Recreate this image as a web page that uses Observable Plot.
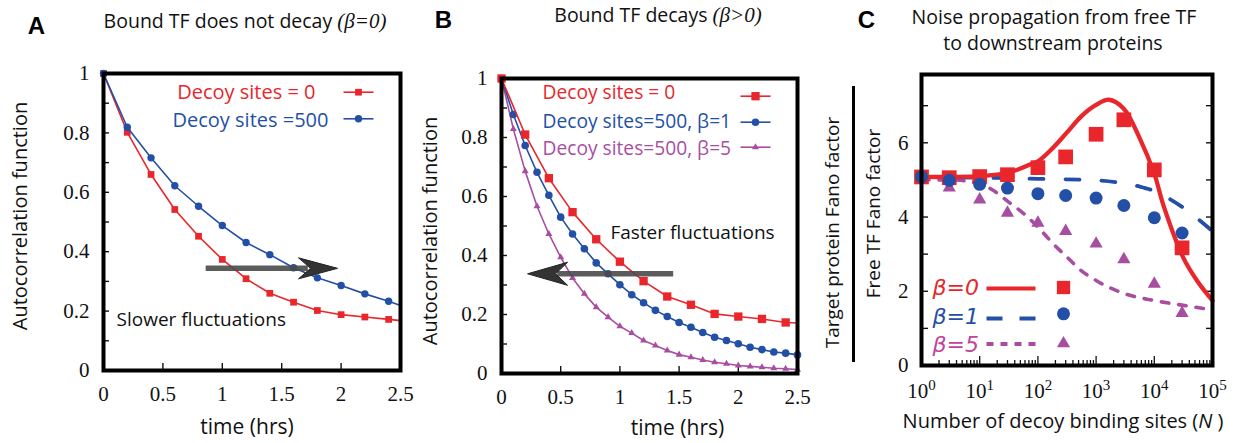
<!DOCTYPE html>
<html><head><meta charset="utf-8">
<script src="https://cdn.jsdelivr.net/npm/d3@7"></script>
<script src="https://cdn.jsdelivr.net/npm/@observablehq/plot@0.6"></script>
<style>
body{margin:0;background:#fff;}
#fig{position:relative;width:1243px;height:443px;overflow:hidden;font-family:'Open Sans','Noto Sans',sans-serif;color:#111;}
.lbl{position:absolute;transform:translate(-50%,-50%);white-space:nowrap;line-height:1;font-size:19.5px;}
.lbl .m{font-family:'Liberation Serif',serif;font-style:italic;font-size:21px;}
.panel{position:absolute;transform:translate(-50%,-50%);line-height:1;font-family:'Liberation Sans',Arial,sans-serif;font-weight:bold;font-size:24px;color:#000;}
</style></head><body><div id="fig"></div>
<script>
// ---------- Panel A data ----------
const timeA = [0,0.2,0.4,0.6,0.8,1.0,1.2,1.4,1.6,1.8,2.0,2.2,2.4,2.5];
const acfA_decoy0   = [1,0.802,0.66,0.542,0.452,0.374,0.309,0.26,0.23,0.202,0.188,0.18,0.172,0.168];
const acfA_decoy500 = [1,0.819,0.716,0.622,0.553,0.488,0.431,0.39,0.346,0.312,0.286,0.258,0.233,0.219];
// ---------- Panel B data ----------
const timeB_red = [0,0.2,0.4,0.6,0.8,1.0,1.2,1.4,1.6,1.8,2.0,2.2,2.4,2.5];
const acfB_decoy0 = [1,0.81,0.662,0.547,0.455,0.379,0.313,0.261,0.233,0.202,0.193,0.185,0.173,0.171];
const timeB = [0,0.1,0.2,0.3,0.4,0.5,0.6,0.7,0.8,0.9,1.0,1.1,1.2,1.3,1.4,1.5,1.6,1.7,1.8,1.9,2.0,2.1,2.2,2.3,2.4,2.5];
const acfB_beta1 = [1,0.878,0.773,0.682,0.604,0.53,0.473,0.423,0.375,0.338,0.301,0.267,0.24,0.214,0.193,0.173,0.157,0.139,0.123,0.112,0.101,0.089,0.081,0.073,0.069,0.063];
const acfB_beta5 = [1,0.829,0.686,0.567,0.473,0.394,0.324,0.27,0.225,0.191,0.16,0.137,0.112,0.095,0.078,0.064,0.055,0.046,0.038,0.033,0.027,0.024,0.021,0.018,0.016,0.013];
// ---------- Panel C data ----------
const decoyN = [1,3,10,30,100,300,1000,3000,10000,30000];
const fanoSim_beta0 = [5.08,5.06,5.09,5.14,5.33,5.62,6.23,6.62,5.27,3.17];
const fanoSim_beta1 = [5.08,4.99,4.88,4.78,4.63,4.58,4.51,4.31,3.98,3.57];
const fanoSim_beta5 = [5.02,4.79,4.47,4.11,3.84,3.62,3.28,2.86,2.2,1.41];
const theoryN_beta0 = [1,3.16,10,31.6,75,100,178,316,562,1000,1660,2990,5620,10000,14450,31600,56200,100000];
const fanoTheory_beta0 = [5.08,5.08,5.1,5.2,5.42,5.5,5.85,6.28,6.72,7.02,7.16,6.92,6.12,5.17,4.3,2.9,2.25,1.75];
const theoryN_beta1 = [1,10,100,1000,3160,5620,10000,17800,31600,56200,100000];
const fanoTheory_beta1 = [5.08,5.06,5.03,4.99,4.9,4.82,4.7,4.5,4.25,3.95,3.62];
const theoryN_beta5 = [1,3.16,10,17.8,31.6,56.2,100,178,316,562,1000,3160,10000,31600,100000];
const fanoTheory_beta5 = [5.0,5.0,4.9,4.7,4.4,4.1,3.73,3.3,2.92,2.55,2.29,1.93,1.75,1.62,1.5];
// ---------- ticks ----------
const timeTicks = [0,0.5,1,1.5,2,2.5];
const acfTicks = [0,0.2,0.4,0.6,0.8,1];
const acfMinorTicks = [0,0.1,0.2,0.3,0.4,0.5,0.6,0.7,0.8,0.9,1];
const nTicks = [1,10,100,1000,10000,100000];
const nMinorTicks = [2,3,4,5,6,7,8,9,20,30,40,50,60,70,80,90,200,300,400,500,600,700,800,900,
  2000,3000,4000,5000,6000,7000,8000,9000,20000,30000,40000,50000,60000,70000,80000,90000];
const fanoTicks = [0,2,4,6];
const fanoMinorTicks = [1,2,3,4,5,6,7];
// ---------- annotations ----------
const arrowA = [{x1:0.86, x2:1.72, tip:1.97, y:0.344}];
const arrowB = [{x1:1.45, x2:0.47, tip:0.22, y:0.338}];
const noteA = [{x:0.11, y:0.17, text:"Slower fluctuations"}];
const noteB = [{x:0.92, y:0.475, text:"Faster fluctuations"}];

const red = "#e8262b", blue = "#2350a6", purple = "#a84ea1", purpleText = "#c0449e";
const sans = "'Open Sans','Noto Sans',sans-serif";
const serif = "'Liberation Serif','Times New Roman',serif";

const hline = len => ({draw(ctx){ctx.moveTo(-len/2,0); ctx.lineTo(len/2,0);}});
const head = (dir, len, half, notch) => ({draw(ctx){
  ctx.moveTo(0,0); ctx.lineTo(-dir*len,-half); ctx.lineTo(-dir*notch,0); ctx.lineTo(-dir*len,half); ctx.closePath();}});
const zip = (xs, ys) => xs.map((x,i)=>({x, y: ys[i]}));
const style = {background:"transparent", overflow:"visible", fontFamily: sans, color:"#111"};
const lab = (s, o) => Plot.text([s], {text:d=>d, textAnchor:"middle", lineAnchor:"middle", fontSize:20, fill:"#111", ...o});

function acfAxes(){
  return [
    Plot.axisY(acfMinorTicks, {anchor:"left", tickSize:-6, strokeWidth:1.4, fill:"none", label:null}),
    Plot.axisX(timeTicks, {anchor:"bottom", tickSize:-7, strokeWidth:1.4, fill:"none", label:null}),
    Plot.axisY(acfTicks, {anchor:"left", tickSize:0, tickPadding:14, tickFormat:d=>String(d), fill:"#111", label:null}),
    Plot.axisX(timeTicks, {anchor:"bottom", tickSize:0, tickPadding:16, tickFormat:d=>String(d), fill:"#111", label:null})
  ];
}

// ---------------- Panel A ----------------
const dA0 = zip(timeA, acfA_decoy0), dA5 = zip(timeA, acfA_decoy500);
const plotA = Plot.plot({
  width:410, height:443, marginLeft:103, marginRight:10, marginTop:73, marginBottom:73,
  x:{domain:[0,2.5]}, y:{domain:[0,1]}, style,
  marks:[
    ...acfAxes(),
    lab("Autocorrelation function", {frameAnchor:"left", dx:-83, dy:-6, rotate:-90}),
    lab("time (hrs)", {frameAnchor:"bottom", dx:-5, dy:57, fontSize:21}),
    Plot.line(dA0, {x:"x", y:"y", stroke:red, strokeWidth:1.6}),
    Plot.dot(dA0, {filter:d=>d.x<2.45, x:"x", y:"y", symbol:"square", r:3.8, fill:red, stroke:"none"}),
    Plot.line(dA5, {x:"x", y:"y", stroke:blue, strokeWidth:1.6}),
    Plot.dot(dA5, {filter:d=>d.x<2.45, x:"x", y:"y", symbol:"circle", r:3.7, fill:blue, stroke:"none"}),
    Plot.link(arrowA, {x1:"x1", x2:"x2", y1:"y", y2:"y", stroke:"#4a4a4a", strokeOpacity:0.9, strokeWidth:5.5}),
    Plot.dot(arrowA, {x:"tip", y:"y", symbol:head(1,39,10.5,27), fill:"#333", stroke:"#222", strokeWidth:1}),
    Plot.text(noteA, {x:"x", y:"y", text:"text", textAnchor:"start", fontSize:19, fill:"#111"}),
    lab("Decoy sites = 0", {frameAnchor:"top-right", dx:-85, dy:19, textAnchor:"end", fill:red}),
    Plot.dot([0], {frameAnchor:"top-right", dx:-42, dy:18.7, symbol:hline(30), stroke:red, strokeWidth:1.6, fill:"none"}),
    Plot.dot([0], {frameAnchor:"top-right", dx:-42, dy:18.7, symbol:"square", r:3.8, fill:red, stroke:"none"}),
    lab("Decoy sites =500", {frameAnchor:"top-right", dx:-72, dy:47.5, textAnchor:"end", fill:blue}),
    Plot.dot([0], {frameAnchor:"top-right", dx:-42, dy:45.3, symbol:hline(30), stroke:blue, strokeWidth:1.6, fill:"none"}),
    Plot.dot([0], {frameAnchor:"top-right", dx:-42, dy:45.3, symbol:"circle", r:3.7, fill:blue, stroke:"none"}),
    Plot.frame({stroke:"#000", strokeWidth:4})
  ]
});

// ---------------- Panel B ----------------
const dB0 = zip(timeB_red, acfB_decoy0), dB1 = zip(timeB, acfB_beta1), dB5 = zip(timeB, acfB_beta5);
const plotB = Plot.plot({
  width:400, height:443, marginLeft:91, marginRight:13, marginTop:78, marginBottom:70,
  x:{domain:[0,2.5]}, y:{domain:[0,1]}, style,
  marks:[
    ...acfAxes(),
    lab("Autocorrelation function", {frameAnchor:"left", dx:-71, dy:5, rotate:-90}),
    lab("time (hrs)", {frameAnchor:"bottom", dx:28, dy:55, fontSize:21}),
    Plot.line(dB5, {x:"x", y:"y", stroke:purple, strokeWidth:1.6}),
    Plot.dot(dB5, {x:"x", y:"y", symbol:"triangle", r:2.6, fill:purple, stroke:"none"}),
    Plot.line(dB1, {x:"x", y:"y", stroke:blue, strokeWidth:1.6}),
    Plot.dot(dB1, {x:"x", y:"y", symbol:"circle", r:3.8, fill:blue, stroke:"none"}),
    Plot.line(dB0, {x:"x", y:"y", stroke:red, strokeWidth:1.6}),
    Plot.dot(dB0, {filter:d=>d.x<2.45, x:"x", y:"y", symbol:"square", r:4.7, fill:red, stroke:"none"}),
    Plot.link(arrowB, {x1:"x1", x2:"x2", y1:"y", y2:"y", stroke:"#4a4a4a", strokeOpacity:0.9, strokeWidth:5.5}),
    Plot.dot(arrowB, {x:"tip", y:"y", symbol:head(-1,40,11.5,28), fill:"#333", stroke:"#222", strokeWidth:1}),
    Plot.text(noteB, {x:"x", y:"y", text:"text", textAnchor:"start", fontSize:19, fill:"#111"}),
    lab("Decoy sites = 0", {frameAnchor:"top-left", dx:41, dy:14, textAnchor:"start", fill:red, fontSize:19.2}),
    lab("Decoy sites=500, β=1", {frameAnchor:"top-left", dx:41, dy:43, textAnchor:"start", fill:blue, fontSize:19.2}),
    lab("Decoy sites=500, β=5", {frameAnchor:"top-left", dx:41, dy:70, textAnchor:"start", fill:purple, fontSize:19.2}),
    Plot.dot([0], {frameAnchor:"top-right", dx:-42, dy:17.7, symbol:hline(30), stroke:red, strokeWidth:1.6, fill:"none"}),
    Plot.dot([0], {frameAnchor:"top-right", dx:-42, dy:17.7, symbol:"square", r:4.7, fill:red, stroke:"none"}),
    Plot.dot([0], {frameAnchor:"top-right", dx:-42, dy:43.7, symbol:hline(30), stroke:blue, strokeWidth:1.6, fill:"none"}),
    Plot.dot([0], {frameAnchor:"top-right", dx:-42, dy:43.7, symbol:"circle", r:3.8, fill:blue, stroke:"none"}),
    Plot.dot([0], {frameAnchor:"top-right", dx:-42, dy:68.7, symbol:hline(30), stroke:purple, strokeWidth:1.6, fill:"none"}),
    Plot.dot([0], {frameAnchor:"top-right", dx:-42, dy:68.7, symbol:"triangle", r:2.6, fill:purple, stroke:"none"}),
    Plot.frame({stroke:"#000", strokeWidth:4})
  ]
});

// ---------------- Panel C ----------------
const sim0 = zip(decoyN, fanoSim_beta0), sim1 = zip(decoyN, fanoSim_beta1), sim5 = zip(decoyN, fanoSim_beta5);
const th0 = zip(theoryN_beta0, fanoTheory_beta0), th1 = zip(theoryN_beta1, fanoTheory_beta1), th5 = zip(theoryN_beta5, fanoTheory_beta5);
const legendC = [
  {label:"β=0", color:red, text:red, dash:null, width:4, symbol:"square", r:7.5, dy:-77.5, dyLine:-77, dyMark:-78},
  {label:"β=1", color:blue, text:blue, dash:"16,17", width:4, symbol:"circle", r:6.5, dy:-48.5, dyLine:-47, dyMark:-51.7},
  {label:"β=5", color:purple, text:purpleText, dash:"7,7", width:4, symbol:"triangle", r:4.9, dy:-21, dyLine:-21.5, dyMark:-22}
];
const plotC = Plot.plot({
  width:433, height:443, marginLeft:111, marginRight:31, marginTop:74, marginBottom:78,
  x:{type:"log", domain:[1,100000]}, y:{domain:[0,7.84]}, style,
  marks:[
    Plot.axisX(nMinorTicks, {anchor:"bottom", tickSize:-5, strokeWidth:1.3, fill:"none", label:null}),
    Plot.axisX(nTicks, {anchor:"bottom", tickSize:-9, strokeWidth:1.3, fill:"none", label:null}),
    Plot.axisX(nTicks, {anchor:"bottom", tickSize:0, tickPadding:18, tickFormat:d=>"10^"+Math.round(Math.log10(d)), fill:"#111", label:null}),
    Plot.axisY(fanoMinorTicks, {anchor:"left", tickSize:-7, strokeWidth:1.4, fill:"none", label:null}),
    Plot.axisY(fanoMinorTicks, {anchor:"right", tickSize:-7, strokeWidth:1.4, fill:"none", label:null}),
    Plot.axisY(fanoTicks, {anchor:"left", tickSize:0, tickPadding:13, tickFormat:d=>String(d), fill:"#111", label:null}),
    lab("Target protein Fano factor", {frameAnchor:"left", dx:-89, dy:12.5, rotate:-90, fontSize:19}),
    lab("Free TF Fano factor", {frameAnchor:"left", dx:-48, dy:-6.5, rotate:-90, fontSize:19}),
    Plot.ruleX([1], {x:d=>d, dx:-68, insetTop:12, insetBottom:3, stroke:"#000", strokeWidth:3}),
    lab("Number of decoy binding sites (N)", {frameAnchor:"bottom", dx:-4, dy:56}),
    Plot.line(th5, {x:"x", y:"y", stroke:purple, strokeWidth:3.6, strokeDasharray:"7.5,10", curve:"monotone-x"}),
    Plot.line(th1, {x:"x", y:"y", stroke:blue, strokeWidth:3.8, strokeDasharray:"14,22", curve:"monotone-x"}),
    Plot.line(th0, {x:"x", y:"y", stroke:red, strokeWidth:4.3, curve:"catmull-rom"}),
    Plot.dot(sim5, {x:"x", y:"y", symbol:"triangle", r:4.9, fill:purple, stroke:"none"}),
    Plot.dot(sim0, {x:"x", y:"y", symbol:"square", r:8.3, fill:red, stroke:"none"}),
    Plot.dot(sim1, {x:"x", y:"y", symbol:"circle", r:6.5, fill:blue, stroke:"none"}),
    ...legendC.flatMap(d => [
      lab(d.label, {frameAnchor:"bottom-left", dx:11, dy:d.dy, textAnchor:"start", fill:d.text, fontStyle:"italic", fontSize:22, fontFamily:"'DejaVu Sans',sans-serif"}),
      Plot.dot([d], {frameAnchor:"bottom-left", dx:89.5, dy:d.dyLine, symbol:hline(49), stroke:d.color, strokeWidth:d.width, strokeDasharray:d.dash, fill:"none"}),
      Plot.dot([d], {frameAnchor:"bottom-left", dx:142, dy:d.dyMark, symbol:d.symbol, r:d.r, fill:d.color, stroke:"none"})
    ]),
    Plot.frame({stroke:"#000", strokeWidth:4})
  ]
});

// superscripts and italics
plotC.querySelectorAll("text").forEach(t => {
  const m = /^10\^(\d)$/.exec(t.textContent);
  if (m) {
    t.textContent = "10";
    const s = document.createElementNS("http://www.w3.org/2000/svg","tspan");
    s.setAttribute("dy","-8"); s.setAttribute("font-size","15"); s.textContent = m[1];
    t.appendChild(s);
  } else if (t.textContent === "Number of decoy binding sites (N)") {
    t.textContent = "Number of decoy binding sites (";
    const s = document.createElementNS("http://www.w3.org/2000/svg","tspan");
    s.setAttribute("font-style","italic"); s.textContent = "N";
    t.appendChild(s);
    t.appendChild(document.createTextNode(" )"));
  }
});
// serif tick labels
[plotA, plotB, plotC].forEach(svg => svg.querySelectorAll("text").forEach(t => {
  if (/^[0-9.]+$/.test(t.textContent.trim())) {
    t.setAttribute("font-family", serif);
    t.style.fontFamily = serif; t.style.fontSize = "21px"; t.style.fontVariant = "normal";
  }
}));

const fig = document.getElementById("fig");
[[plotA,0],[plotB,410],[plotC,810]].forEach(([svg,left]) => {
  svg.style.position = "absolute"; svg.style.left = left+"px"; svg.style.top = "0px";
  fig.appendChild(svg);
});
const labels = [
  {cls:"panel", html:"A", x:36.5, y:25.5},
  {cls:"panel", html:"B", x:443.5, y:20},
  {cls:"panel", html:"C", x:866.5, y:20},
  {cls:"lbl", html:"Bound TF does not decay <span class='m'>(β=0)</span>", x:245, y:21},
  {cls:"lbl", html:"Bound TF decays <span class='m'>(β&gt;0)</span>", x:658, y:15},
  {cls:"lbl", html:"Noise propagation from free TF", x:1054, y:17},
  {cls:"lbl", html:"to downstream proteins", x:1053, y:43}
];
labels.forEach(l => {
  const d = document.createElement("div");
  d.className = l.cls; d.innerHTML = l.html;
  d.style.left = l.x+"px"; d.style.top = l.y+"px";
  fig.appendChild(d);
});
</script></body></html>
